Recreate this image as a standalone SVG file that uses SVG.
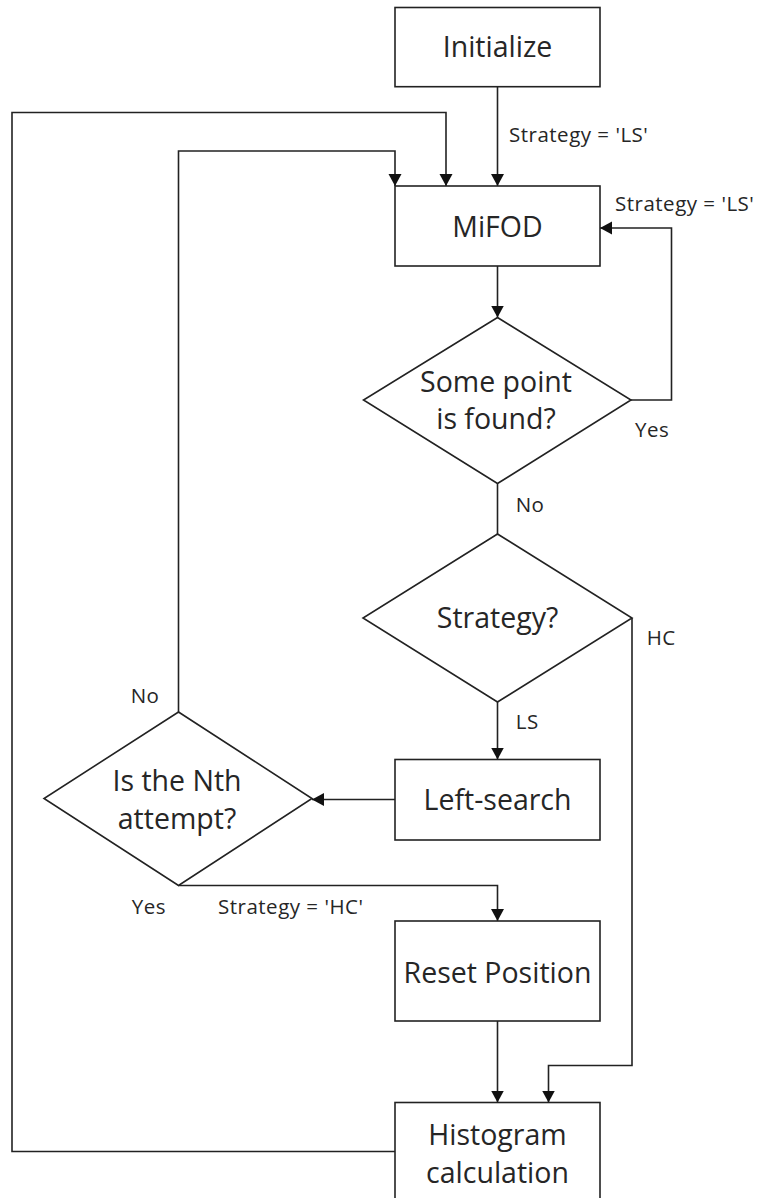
<svg xmlns="http://www.w3.org/2000/svg" width="760" height="1198" viewBox="0 0 760 1198">
<defs>
<style>
.box{fill:#fff;stroke:#222;stroke-width:1.6}
.t{font-family:"Open Sans","Noto Sans",sans-serif;font-size:28.5px;fill:#262626;text-anchor:middle}
.l{font-family:"Open Sans","Noto Sans",sans-serif;font-size:20.5px;fill:#262626;letter-spacing:0.5px}
.c{fill:none;stroke:#222;stroke-width:1.6}
.a{marker-end:url(#arr)}
</style>
<marker id="arr" markerUnits="userSpaceOnUse" markerWidth="13" markerHeight="14" refX="12" refY="7" orient="auto">
<path d="M0,0.5 L12,7 L0,13.5 z" fill="#111"/>
</marker>
</defs>
<rect width="760" height="1198" fill="#fff"/>
<g id="connectors">
<path class="c a" d="M497.5,86.7 V186"/>
<path class="c a" d="M395,1151.5 H12 V112.5 H446 V186"/>
<path class="c a" d="M178.5,712 V151 H395 V186"/>
<path class="c a" d="M631,400 H671.5 V228 H600"/>
<path class="c a" d="M497.5,266 V317.5"/>
<path class="c" d="M497.5,483.5 V534"/>
<path class="c a" d="M497.5,702 V759.5"/>
<path class="c a" d="M632,618 V1065.5 H548.5 V1102.5"/>
<path class="c a" d="M395,799.5 H312"/>
<path class="c a" d="M178.5,885.5 H497.5 V921"/>
<path class="c a" d="M497.5,1021 V1102.5"/>
</g>
<g id="labels">
<text class="l" x="509" y="141.7">Strategy = 'LS'</text>
<text class="l" x="615" y="210.7">Strategy = 'LS'</text>
<text class="l" x="635" y="437">Yes</text>
<text class="l" x="515.7" y="512.3">No</text>
<text class="l" x="646.7" y="645">HC</text>
<text class="l" x="515.7" y="729.3">LS</text>
<text class="l" x="130.7" y="702.7">No</text>
<text class="l" x="131.7" y="914.3">Yes</text>
<text class="l" x="218" y="914.3">Strategy = 'HC'</text>
</g>
<g id="initialize">
<rect class="box" x="395" y="7.5" width="205" height="79.2"/>
<text class="t" x="497.5" y="57">Initialize</text>
</g>
<g id="mifod">
<rect class="box" x="395" y="186" width="205" height="80"/>
<text class="t" x="497.5" y="237">MiFOD</text>
</g>
<g id="some-point">
<polygon class="box" points="497.5,317.5 631,400 497.5,483.5 363.5,400"/>
<text class="t" x="496" y="391.7">Some point</text>
<text class="t" x="496" y="429.3">is found?</text>
</g>
<g id="strategy">
<polygon class="box" points="497.5,534 632,618 497.5,702 363,618"/>
<text class="t" x="497.5" y="628">Strategy?</text>
</g>
<g id="left-search">
<rect class="box" x="395" y="759.5" width="205" height="80.5"/>
<text class="t" x="497.5" y="810">Left-search</text>
</g>
<g id="nth-attempt">
<polygon class="box" points="178.5,712 312,798.5 178.5,885.5 44,798.5"/>
<text class="t" x="177" y="791">Is the Nth</text>
<text class="t" x="177" y="829">attempt?</text>
</g>
<g id="reset-position">
<rect class="box" x="395" y="921" width="205" height="100"/>
<text class="t" x="497.5" y="982.7">Reset Position</text>
</g>
<g id="histogram">
<rect class="box" x="395" y="1102.5" width="205" height="110"/>
<text class="t" x="497.5" y="1145">Histogram</text>
<text class="t" x="497.5" y="1182.7">calculation</text>
</g>
</svg>
